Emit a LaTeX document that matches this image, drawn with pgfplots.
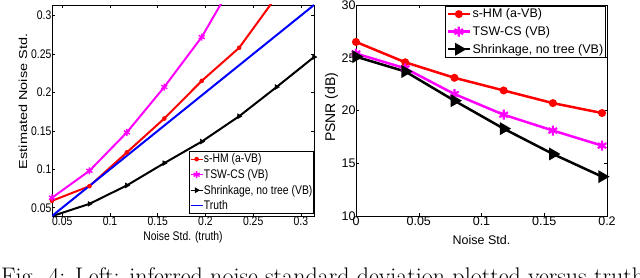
\documentclass[border=0pt]{standalone}
\usepackage{fontspec}
\usepackage{pgfplots}
\pgfplotsset{compat=1.18}
\newfontfamily\lfont[FakeStretch=0.83]{Liberation Sans}
\newfontfamily\rfont{Liberation Sans}
\definecolor{mred}{RGB}{255,0,0}
\definecolor{mmag}{RGB}{255,0,255}
\definecolor{mblue}{RGB}{0,0,255}
\begin{document}
\begin{tikzpicture}
\path[use as bounding box] (0pt,0pt) rectangle (640pt,-278pt);
% ---------------- left panel
\begin{axis}[
  at={(52pt,-5pt)}, anchor=north west,
  scale only axis, width=262pt, height=211pt,
  xmin=0.039216, xmax=0.313725, ymin=0.039216, ymax=0.313725,
  xtick={0.05,0.1,0.15,0.2,0.25,0.3},
  xticklabels={0.05,0.1,0.15,0.2,0.25,0.3},
  ytick={0.05,0.1,0.15,0.2,0.25,0.3},
  yticklabels={0.05,0.1,0.15,0.2,0.25,0.3},
  tick align=inside, major tick length=3pt,
  tick style={black, line width=0.5pt},
  axis line style={line width=0.8pt},
  /pgf/number format/assume math mode=true,
  ticklabel style={font=\lfont\fontsize{12.5}{14}\selectfont},
  xticklabel style={inner sep=0.5pt},
  yticklabel style={inner sep=0.5pt},
  xlabel={\lfont\fontsize{12.5}{14}\selectfont Noise Std. (truth)},
  xlabel style={at={(axis description cs:0.5,-0.118)}, anchor=base},
  ylabel={\scalebox{1}[0.8]{\rfont\fontsize{14.5}{16}\selectfont Estimated Noise Std.}},
  ylabel style={at={(axis description cs:-0.111,0.543)}, anchor=center, rotate=0},
  legend cell align=left,
  legend style={at={(axis description cs:1,0.01)}, anchor=south east,
    draw=black, line width=0.6pt, inner xsep=0.5pt, inner ysep=1pt, row sep=2pt,
    font=\lfont\fontsize{12.5}{14}\selectfont,
    nodes={inner xsep=0.8pt, inner ysep=1.5pt}},
  legend image code/.code={\draw[mark repeat=2,mark phase=2,#1,line width=1.1pt] plot coordinates {(0pt,0pt) (6pt,0pt) (12pt,0pt)};},
]
\addplot[color=mred, line width=2pt, mark=*, mark size=2pt, mark options={fill=mred, line width=0.5pt}] coordinates {
(0.039216,0.059) (0.078431,0.078) (0.117647,0.122) (0.156863,0.166) (0.196078,0.215) (0.235294,0.258) (0.274510,0.325) (0.313725,0.37)};
\addlegendentry{s-HM (a-VB)}
\addplot[color=mmag, line width=2pt, mark=asterisk, mark size=3.5pt, mark options={line width=1.4pt}] coordinates {
(0.039216,0.063) (0.078431,0.098) (0.117647,0.148) (0.156863,0.207) (0.196078,0.272) (0.235294,0.356) (0.274510,0.44) (0.313725,0.53)};
\addlegendentry{TSW-CS (VB)}
\addplot[color=black, line width=2pt, mark=triangle*, mark size=2.8pt, mark options={rotate=-90, fill=black, line width=0.5pt}] coordinates {
(0.039216,0.039) (0.078431,0.055) (0.117647,0.079) (0.156863,0.108) (0.196078,0.136) (0.235294,0.169) (0.274510,0.207) (0.313725,0.246)};
\addlegendentry{Shrinkage, no tree (VB)}
\addplot[color=mblue, line width=2pt, forget plot] coordinates {
(0.039216,0.039216) (0.078431,0.078431) (0.117647,0.117647) (0.156863,0.156863) (0.196078,0.196078) (0.235294,0.235294) (0.274510,0.274510) (0.313725,0.313725)};
\addlegendimage{draw=mblue, color=mblue}
\addlegendentry{Truth}
\end{axis}
% ---------------- right panel
\begin{axis}[
  at={(356pt,-5pt)}, anchor=north west,
  scale only axis, width=251pt, height=211pt,
  xmin=0, xmax=0.2, ymin=10, ymax=30,
  xtick={0,0.05,0.1,0.15,0.2},
  xticklabels={0,0.05,0.1,0.15,0.2},
  ytick={10,15,20,25,30},
  yticklabels={10,15,20,25,30},
  tick align=inside, major tick length=3pt,
  tick style={black, line width=0.5pt},
  axis line style={line width=0.8pt},
  /pgf/number format/assume math mode=true,
  ticklabel style={font=\rfont\fontsize{12.5}{14}\selectfont},
  xticklabel style={inner sep=0.5pt},
  yticklabel style={inner sep=0.3pt},
  xlabel={\rfont\fontsize{12.5}{14}\selectfont Noise Std.},
  xlabel style={at={(axis description cs:0.5,-0.135)}, anchor=base},
  ylabel={\rfont\fontsize{14}{16}\selectfont PSNR (dB)},
  ylabel style={at={(axis description cs:-0.098,0.515)}, anchor=center},
  legend cell align=left,
  legend style={at={(axis description cs:0.996,0.995)}, anchor=north east,
    draw=black, line width=0.6pt, inner sep=1pt, row sep=4pt,
    font=\rfont\fontsize{12.5}{14}\selectfont,
    nodes={inner sep=1.5pt}},
  legend image code/.code={\draw[mark repeat=2,mark phase=2,#1] plot coordinates {(0pt,0pt) (11pt,0pt) (22pt,0pt)};},
]
\addplot[color=mred, line width=2.5pt, mark=*, mark size=2.7pt, mark options={fill=mred}] coordinates {
(0,26.5) (0.039216,24.57) (0.078431,23.1) (0.117647,21.9) (0.156863,20.7) (0.196078,19.76)};
\addlegendentry{s-HM (a-VB)}
\addplot[color=mmag, line width=2.5pt, mark=asterisk, mark size=5pt, mark options={line width=2.2pt}] coordinates {
(0,25.4) (0.039216,24.0) (0.078431,21.56) (0.117647,19.6) (0.156863,18.1) (0.196078,16.67)};
\addlegendentry{TSW-CS (VB)}
\addplot[color=black, line width=2.5pt, mark=triangle*, mark size=5pt, mark options={rotate=-90, fill=black}] coordinates {
(0,25.1) (0.039216,23.7) (0.078431,20.93) (0.117647,18.28) (0.156863,15.88) (0.196078,13.73)};
\addlegendentry{Shrinkage, no tree (VB)}
\end{axis}
\node[anchor=base west, inner sep=0pt, font=\fontsize{24}{28}\selectfont] at (1pt,-284.5pt) {Fig. 4: Left: inferred noise standard deviation plotted versus truth};
\end{tikzpicture}
\end{document}
